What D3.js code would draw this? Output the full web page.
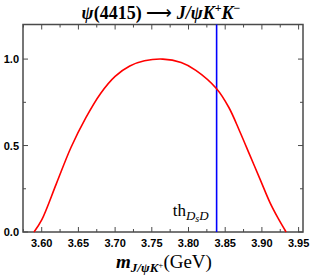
<!DOCTYPE html>
<html>
<head>
<meta charset="utf-8">
<script src="https://cdn.jsdelivr.net/npm/d3@7/dist/d3.min.js"></script>
<style>
  body { margin: 0; background: #fff; }
  text { fill: #000; }
</style>
</head>
<body>
<svg id="chart" width="317" height="277"></svg>
<script>
// invariant mass m(J/psi K+) in GeV and normalised distribution
const massValues = [3.5895, 3.600, 3.620, 3.640, 3.660, 3.680, 3.700, 3.720, 3.740, 3.765,
  3.790, 3.810, 3.838, 3.855, 3.870, 3.884, 3.898, 3.911, 3.922, 3.933];
const distValues = [0, 0.07, 0.28, 0.49, 0.66, 0.80, 0.90, 0.96, 0.99, 1.0,
  0.98, 0.935, 0.83, 0.72, 0.58, 0.44, 0.30, 0.17, 0.08, 0];
const thresholdDsD = 3.8383;
const xTicks = [3.60, 3.65, 3.70, 3.75, 3.80, 3.85, 3.90, 3.95];
const yTicks = [0, 0.5, 1.0];

const svg = d3.select('#chart');
const margin = { left: 23, top: 24.5, right: 14, bottom: 45 };
const width = 317, height = 277;

const x = d3.scaleLinear().domain([3.5745, 3.956]).range([margin.left, width - margin.right]);
const y = d3.scaleLinear().domain([0, 1.2]).range([height - margin.bottom, margin.top]);

const frameColor = '#4a4a4a';

// minor ticks
const xMinor = d3.range(3.575, 3.956, 0.025);
const yMinor = d3.range(0, 1.21, 0.25);

const tickGroup = svg.append('g').attr('stroke', frameColor).attr('stroke-width', 1);
xMinor.forEach((v) => {
  const major = xTicks.some((t) => Math.abs(t - v) < 1e-6);
  const len = major ? 5 : 3;
  tickGroup.append('line').attr('x1', x(v)).attr('x2', x(v)).attr('y1', y(0)).attr('y2', y(0) - len);
  tickGroup.append('line').attr('x1', x(v)).attr('x2', x(v)).attr('y1', y(1.2)).attr('y2', y(1.2) + len);
});
yMinor.forEach((v) => {
  const major = yTicks.some((t) => Math.abs(t - v) < 1e-6);
  const len = major ? 5 : 3;
  tickGroup.append('line').attr('y1', y(v)).attr('y2', y(v)).attr('x1', x.range()[0]).attr('x2', x.range()[0] + len);
  tickGroup.append('line').attr('y1', y(v)).attr('y2', y(v)).attr('x1', x.range()[1]).attr('x2', x.range()[1] - len);
});

// frame
svg.append('rect')
  .attr('x', x.range()[0]).attr('y', y(1.2))
  .attr('width', x.range()[1] - x.range()[0]).attr('height', y(0) - y(1.2))
  .attr('fill', 'none').attr('stroke', frameColor).attr('stroke-width', 1.5);

// tick labels
svg.append('g').selectAll('text').data(xTicks).join('text')
  .attr('x', (d) => x(d)).attr('y', y(0) + 15)
  .attr('text-anchor', 'middle')
  .style('font', 'bold 11px "Liberation Sans", Arial, sans-serif')
  .text((d) => d.toFixed(2));
svg.append('g').selectAll('text').data(yTicks).join('text')
  .attr('x', x.range()[0] - 4).attr('y', (d) => y(d) + 4)
  .attr('text-anchor', 'end')
  .style('font', 'bold 11px "Liberation Sans", Arial, sans-serif')
  .text((d) => d.toFixed(1));

// threshold line
svg.append('line')
  .attr('x1', x(thresholdDsD)).attr('x2', x(thresholdDsD))
  .attr('y1', y(0)).attr('y2', y(1.2))
  .attr('stroke', '#0000ff').attr('stroke-width', 1.6);

// curve
const line = d3.line().x((d) => x(d[0])).y((d) => y(d[1])).curve(d3.curveCatmullRom.alpha(0.5));
svg.append('path')
  .datum(massValues.map((m, i) => [m, distValues[i]]))
  .attr('d', line)
  .attr('fill', 'none').attr('stroke', '#ff0000').attr('stroke-width', 1.6);

// threshold label
const th = svg.append('text').attr('x', x(thresholdDsD) - 8).attr('y', y(0) - 16)
  .attr('text-anchor', 'end')
  .style('font', '17px "Liberation Serif", "Times New Roman", serif');
th.append('tspan').text('th');
th.append('tspan').attr('dy', 4).style('font-style', 'italic').style('font-size', '13px').text('D');
th.append('tspan').attr('dy', 2).style('font-style', 'italic').style('font-size', '10px').text('s');
th.append('tspan').attr('dy', -2).style('font-style', 'italic').style('font-size', '13px').text('D');

// title
const title = svg.append('text').attr('x', 161).attr('y', 19).attr('text-anchor', 'middle')
  .style('font', 'bold 18px "Liberation Serif", "Times New Roman", serif');
title.append('tspan').style('font-style', 'italic').text('ψ');
title.append('tspan').text('(4415) ');
title.append('tspan').style('font-weight', 'normal').text('⟶');
title.append('tspan').text(' ');
title.append('tspan').style('font-style', 'italic').text('J/ψK');
title.append('tspan').attr('dy', -7).style('font-size', '12px').text('+');
title.append('tspan').attr('dy', 7).style('font-style', 'italic').text('K');
title.append('tspan').attr('dy', -7).style('font-size', '12px').text('−');

// x axis label
const xl = svg.append('text').attr('x', 164).attr('y', 268).attr('text-anchor', 'middle')
  .style('font', '19px "Liberation Serif", "Times New Roman", serif');
xl.append('tspan').style('font-style', 'italic').style('font-weight', 'bold').text('m');
xl.append('tspan').attr('dy', 4).style('font-style', 'italic').style('font-weight', 'bold').style('font-size', '13px').text('J/ψK');
xl.append('tspan').attr('dy', -4).style('font-size', '9px').text('+');
xl.append('tspan').attr('dy', 0).text('(GeV)');
</script>
</body>
</html>
